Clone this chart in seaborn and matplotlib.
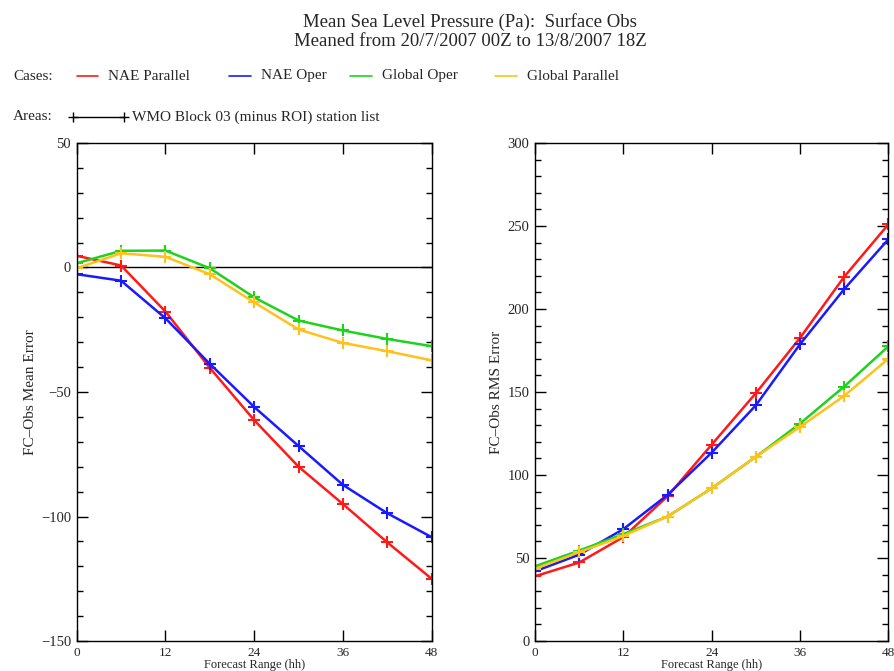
import numpy as np
import pandas as pd
import matplotlib
matplotlib.use("Agg")
import matplotlib.pyplot as plt
from matplotlib.lines import Line2D
from matplotlib.ticker import MultipleLocator, FixedLocator
import seaborn as sns

# Forecast range (hours)
lead_hours = [0, 6, 12, 18, 24, 30, 36, 42, 48]

cases = ["NAE Parallel", "NAE Oper", "Global Oper", "Global Parallel"]
case_colors = ["#ff1a1a", "#1a1aff", "#1ed21e", "#ffc21a"]

# FC-Obs mean error (Pa)
mean_nae_parallel = [4.7, 0.8, -17.7, -40.3, -61.3, -80.0, -95.0, -110.4, -125.0]
mean_nae_oper = [-2.7, -5.3, -20.4, -38.7, -56.0, -71.7, -87.3, -98.7, -108.3]
mean_global_oper = [1.7, 6.7, 6.8, -0.3, -12.0, -21.3, -25.3, -28.7, -31.6]
mean_global_parallel = [-0.3, 5.7, 4.3, -2.7, -14.0, -24.9, -30.3, -33.6, -37.3]

# FC-Obs RMS error (Pa)
rms_nae_parallel = [39.0, 47.3, 62.6, 87.2, 118.3, 149.3, 182.6, 219.4, 251.0]
rms_nae_oper = [42.0, 52.0, 67.4, 88.0, 113.5, 142.0, 178.8, 212.0, 242.0]
rms_global_oper = [45.0, 54.5, 64.4, 75.0, 92.0, 111.0, 131.0, 153.3, 177.5]
rms_global_parallel = [43.5, 53.5, 63.3, 75.0, 92.0, 111.0, 129.0, 147.7, 170.0]

mean_series = [mean_nae_parallel, mean_nae_oper, mean_global_oper, mean_global_parallel]
rms_series = [rms_nae_parallel, rms_nae_oper, rms_global_oper, rms_global_parallel]


def long_frame(series):
    rows = []
    for case, vals in zip(cases, series):
        for h, v in zip(lead_hours, vals):
            rows.append({"hour": h, "value": v, "case": case})
    return pd.DataFrame(rows)


sns.set_theme(style="white")
plt.rcParams["font.family"] = ["Liberation Serif", "DejaVu Serif"]
plt.rcParams["axes.linewidth"] = 1.0

fig = plt.figure(figsize=(8.95, 6.71), dpi=100)
ax1 = fig.add_axes([0.0857, 0.0447, 0.3966, 0.7422])
ax2 = fig.add_axes([0.5978, 0.0447, 0.3948, 0.7422])

palette = dict(zip(cases, case_colors))

for ax, series in ((ax1, mean_series), (ax2, rms_series)):
    df = long_frame(series)
    sns.lineplot(data=df, x="hour", y="value", hue="case", hue_order=cases,
                 palette=palette, marker="+", markersize=9, markeredgewidth=1.5,
                 linewidth=1.8, legend=False, ax=ax)
    for line, col in zip(ax.get_lines(), case_colors):
        line.set_markeredgecolor(col)
    ax.set_xlim(0, 48)
    ax.xaxis.set_major_locator(FixedLocator([0, 12, 24, 36, 48]))
    ax.yaxis.set_minor_locator(MultipleLocator(10))
    ax.tick_params(axis="x", which="major", direction="in", length=8, width=1,
                   top=True, bottom=True, labelsize=9.5, pad=4, color="black")
    ax.tick_params(axis="y", which="major", direction="in", length=8, width=1,
                   left=True, right=True, labelsize=10.5, pad=4, color="black")
    ax.tick_params(axis="y", which="minor", direction="in", length=4, width=1,
                   left=True, right=True, color="black")
    for sp in ax.spines.values():
        sp.set_color("black")
        sp.set_visible(True)
    ax.set_xlabel("Forecast Range (hh)", fontsize=9, labelpad=0)

ax1.set_ylim(-150, 50)
ax1.yaxis.set_major_locator(MultipleLocator(50))
ax1.axhline(0, color="black", linewidth=1.0, zorder=0)
ax1.set_ylabel("FC\u2013Obs Mean Error", fontsize=11, labelpad=3)

ax2.set_ylim(0, 300)
ax2.yaxis.set_major_locator(MultipleLocator(50))
ax2.set_ylabel("FC\u2013Obs RMS Error", fontsize=11, labelpad=3)

W, H = 895.0, 671.0

# Titles
fig.text(470 / W, 1 - 22 / H, "Mean Sea Level Pressure (Pa):  Surface Obs",
         ha="center", va="center", fontsize=13.5)
fig.text(470 / W, 1 - 41 / H, "Meaned from 20/7/2007 00Z to 13/8/2007 18Z",
         ha="center", va="center", fontsize=13.5)

# Case key
key_y = 1 - 76 / H
fig.text(13 / W, key_y, "Cases:", ha="left", va="center", fontsize=11)
key_entries = [(77, 98, 108), (229, 251, 261), (350, 372, 382), (495, 517, 527)]
for (x0, x1, xt), case, col in zip(key_entries, cases, case_colors):
    fig.add_artist(Line2D([x0 / W, x1 / W], [key_y, key_y], color=col,
                          linewidth=1.2, transform=fig.transFigure))
    fig.text(xt / W, key_y, case, ha="left", va="center", fontsize=11)

# Area key
area_y = 1 - 117 / H
fig.text(13 / W, area_y, "Areas:", ha="left", va="center", fontsize=11)
fig.add_artist(Line2D([73 / W, 124 / W], [area_y, area_y], color="black",
                      linewidth=1.0, marker="+", markersize=7,
                      transform=fig.transFigure))
fig.text(132 / W, area_y, "WMO Block 03 (minus ROI) station list",
         ha="left", va="center", fontsize=11)

fig.savefig("out.png", dpi=100)
